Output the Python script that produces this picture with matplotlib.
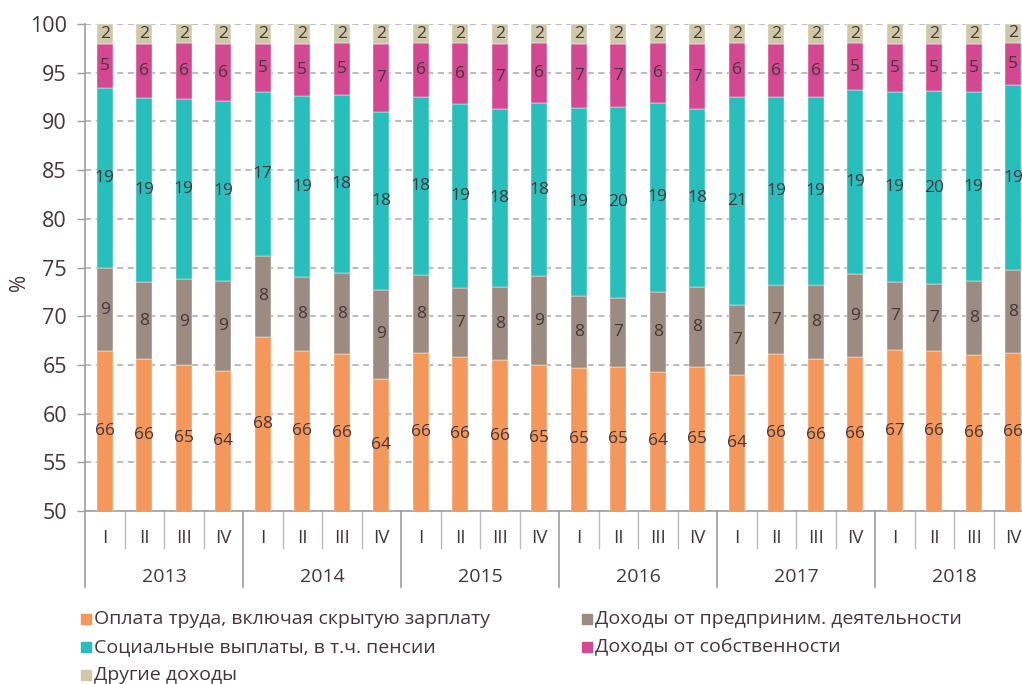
import matplotlib
matplotlib.use("Agg")
import matplotlib.pyplot as plt
from matplotlib.patches import Rectangle
import matplotlib.transforms as mtransforms
import numpy as np

plt.rcParams['font.family'] = ['Open Sans', 'DejaVu Sans']

years = ["2013", "2014", "2015", "2016", "2017", "2018"]
quarters = ["I", "II", "III", "IV"]

series_names = [
    "Оплата труда, включая скрытую зарплату",
    "Доходы от предприним. деятельности",
    "Социальные выплаты, в т.ч. пенсии",
    "Доходы от собственности",
    "Другие доходы",
]

wage = [66.4, 65.6, 65.0, 64.4, 67.9, 66.4, 66.1, 63.6, 66.2, 65.8, 65.5, 65.0,
        64.7, 64.8, 64.3, 64.8, 64.0, 66.1, 65.6, 65.8, 66.5, 66.4, 66.0, 66.2]
business = [8.5, 7.9, 8.8, 9.2, 8.3, 7.6, 8.3, 9.1, 8.0, 7.1, 7.5, 9.1,
            7.4, 7.1, 8.2, 8.2, 7.2, 7.1, 7.6, 8.5, 7.0, 6.9, 7.6, 8.5]
social = [18.5, 18.9, 18.5, 18.5, 16.8, 18.6, 18.3, 18.3, 18.3, 18.9, 18.3, 17.8,
          19.3, 19.6, 19.4, 18.3, 21.3, 19.3, 19.3, 18.9, 19.5, 19.8, 19.4, 19.0]
prop = [4.5, 5.5, 5.7, 5.8, 4.9, 5.3, 5.3, 6.9, 5.5, 6.2, 6.6, 6.1,
        6.5, 6.4, 6.1, 6.6, 5.5, 5.4, 5.4, 4.8, 4.9, 4.8, 4.9, 4.4]
other = [2.1, 2.1, 2.0, 2.1, 2.1, 2.1, 2.0, 2.1, 2.0, 2.0, 2.1, 2.0,
         2.1, 2.1, 2.0, 2.1, 2.0, 2.1, 2.1, 2.0, 2.1, 2.1, 2.1, 1.9]

wage_lbl = [66, 66, 65, 64, 68, 66, 66, 64, 66, 66, 66, 65,
            65, 65, 64, 65, 64, 66, 66, 66, 67, 66, 66, 66]
business_lbl = [9, 8, 9, 9, 8, 8, 8, 9, 8, 7, 8, 9,
                8, 7, 8, 8, 7, 7, 8, 9, 7, 7, 8, 8]
social_lbl = [19, 19, 19, 19, 17, 19, 18, 18, 18, 19, 18, 18,
              19, 20, 19, 18, 21, 19, 19, 19, 19, 20, 19, 19]
prop_lbl = [5, 6, 6, 6, 5, 5, 5, 7, 6, 6, 7, 6,
            7, 7, 6, 7, 6, 6, 6, 5, 5, 5, 5, 5]
other_lbl = [2] * 24

colors = ["#F4975B", "#9B8B80", "#28BEBC", "#D44892", "#CFC8A8"]
text_color = "#45363A"
grey = "#9E9E9E"

W, H = 1022, 684
fig = plt.figure(figsize=(W / 100, H / 100), dpi=100)
ax = fig.add_axes([85 / W, (H - 511) / H, 948 / W, 487 / H])

n = len(wage)
x = np.arange(n)
series = [wage, business, social, prop, other]
labels = [wage_lbl, business_lbl, social_lbl, prop_lbl, other_lbl]
ymin, ymax = 50, 100

bottom = np.zeros(n)
for vals, lbls, col in zip(series, labels, colors):
    v = np.array(vals)
    ax.bar(x, v, bottom=bottom, width=0.405, color=col, edgecolor="white",
           linewidth=0.3, zorder=3)
    for i in range(n):
        lo = max(bottom[i], ymin)
        hi = bottom[i] + v[i]
        ax.text(x[i], (lo + hi) / 2, str(lbls[i]), ha="center", va="center",
                fontsize=12.5, color=text_color, zorder=4)
    bottom = bottom + v

ax.set_xlim(-0.5, n - 0.5)
ax.set_ylim(ymin, ymax)
ax.set_yticks(np.arange(50, 101, 5))
ax.tick_params(axis="y", length=6, width=1, color=grey, labelsize=15.5,
               labelcolor=text_color, pad=7)
ax.set_xticks([])
ax.yaxis.grid(True, linestyle=(0, (4, 3)), color="#AAAAAA", linewidth=1.1, zorder=0)
ax.set_axisbelow(True)
for s in ["top", "right"]:
    ax.spines[s].set_visible(False)
for s in ["left", "bottom"]:
    ax.spines[s].set_color(grey)
    ax.spines[s].set_linewidth(1.2)
ax.set_ylabel("%", fontsize=15, color=text_color)
ax.yaxis.set_label_coords((30 - 85) / 948, 0.47)

trans = mtransforms.blended_transform_factory(ax.transData, ax.transAxes)
q_depth = -(548 - 511) / 487
y_depth = -(587 - 511) / 487
for k in range(n + 1):
    xb = k - 0.5
    depth = y_depth if k % 4 == 0 else q_depth
    ax.plot([xb, xb], [0, depth], color=grey if k % 4 == 0 else "#BBBBBB",
            linewidth=1.2 if k % 4 == 0 else 1.0, transform=trans, clip_on=False)
for i in range(n):
    ax.text(x[i], -(538 - 511) / 487, quarters[i % 4], transform=trans,
            ha="center", va="center", fontsize=13.5, color=text_color)
for j, yr in enumerate(years):
    ax.text(j * 4 + 1.5, -(577 - 511) / 487, yr, transform=trans,
            ha="center", va="center", fontsize=14, color=text_color)

# legend laid out in two columns, row-major
leg_pos = [(81, 619), (582, 619), (81, 647), (582, 647), (81, 675)]
for (px, py), idx in zip(leg_pos, range(len(series_names))):
    fig.patches.append(Rectangle((px / W, (H - py - 5) / H), 10 / W, 10 / H,
                                 transform=fig.transFigure, color=colors[idx],
                                 figure=fig))
    fig.text((px + 13) / W, (H - py) / H, series_names[idx], ha="left",
             va="center", fontsize=14, color=text_color)

fig.savefig("out.png", dpi=100)
